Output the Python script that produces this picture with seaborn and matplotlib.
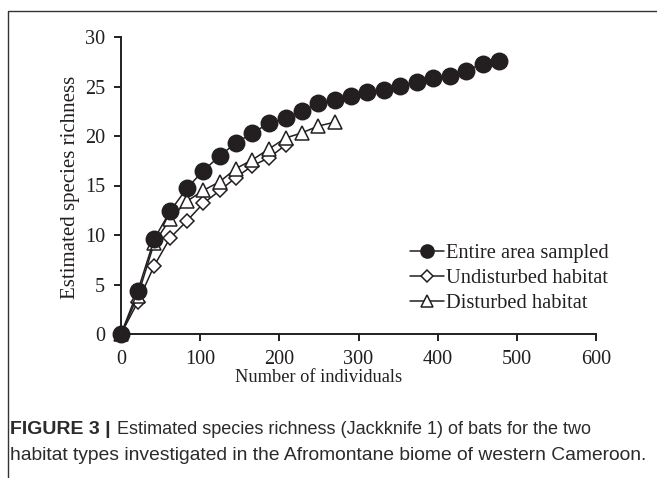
import matplotlib
matplotlib.use('Agg')
import matplotlib.pyplot as plt
import seaborn as sns
import pandas as pd
from matplotlib.lines import Line2D

# ---------------- data ----------------
x_entire = [0, 21, 42, 62, 83, 104, 125, 145, 166, 187, 208, 228, 249, 270,
            291, 311, 332, 353, 374, 394, 415, 436, 457, 477]
y_entire = [0, 4.3, 9.6, 12.4, 14.7, 16.5, 18.0, 19.3, 20.3, 21.3, 21.8, 22.5,
            23.3, 23.6, 24.0, 24.4, 24.6, 25.1, 25.5, 25.9, 26.1, 26.6, 27.3, 27.6]

x_undist = [0, 21, 42, 62, 83, 104, 125, 145, 166, 187, 208]
y_undist = [0, 3.2, 6.9, 9.7, 11.4, 13.2, 14.5, 15.8, 17.0, 17.8, 19.1]

x_dist = [0, 21, 42, 62, 83, 104, 125, 145, 166, 187, 208, 228, 249, 270]
y_dist = [0, 3.8, 9.2, 11.6, 13.4, 14.5, 15.4, 16.7, 17.6, 18.7, 19.8, 20.3, 21.0, 21.4]

series_names = ["Entire area sampled", "Undisturbed habitat", "Disturbed habitat"]
x_ticks = [0, 100, 200, 300, 400, 500, 600]
y_ticks = [0, 5, 10, 15, 20, 25, 30]
x_label = "Number of individuals"
y_label = "Estimated species richness"
caption_bold = "FIGURE 3 |"
caption_line1 = "Estimated species richness (Jackknife 1) of bats for the two"
caption_line2 = "habitat types investigated in the Afromontane biome of western Cameroon."

# ---------------- style ----------------
sns.set_theme(style='ticks')
plt.rcParams['font.family'] = ['Liberation Serif', 'DejaVu Serif']
INK = '#231f20'

W, H = 657, 478
fig = plt.figure(figsize=(W / 100, H / 100), dpi=100)
ax = fig.add_axes([121 / W, 1 - 334 / H, (596 - 121) / W, (334 - 37) / H])
ax.patch.set_alpha(0)

styles = {
    "Undisturbed habitat": dict(marker='D', markersize=7.5, markerfacecolor='white', z=3),
    "Disturbed habitat": dict(marker='^', markersize=10.5, markerfacecolor='white', z=4),
    "Entire area sampled": dict(marker='o', markersize=11.8, markerfacecolor=INK, z=5),
}
data = {
    "Entire area sampled": (x_entire, y_entire),
    "Undisturbed habitat": (x_undist, y_undist),
    "Disturbed habitat": (x_dist, y_dist),
}
for name in ["Undisturbed habitat", "Disturbed habitat", "Entire area sampled"]:
    xs, ys = data[name]
    df = pd.DataFrame({"x": xs, "y": ys})
    st = styles[name]
    sns.lineplot(data=df, x="x", y="y", ax=ax, color=INK, linewidth=1.1,
                 marker=st['marker'], markersize=st['markersize'],
                 markerfacecolor=st['markerfacecolor'], markeredgecolor=INK,
                 markeredgewidth=1.1, legend=False, zorder=st['z'], clip_on=False)

ax.set_xlim(0, 600)
ax.set_ylim(0, 30)
ax.set_xticks(x_ticks)
ax.set_yticks(y_ticks)
ax.set_xlabel("")
ax.set_ylabel("")
for s in ['top', 'right']:
    ax.spines[s].set_visible(False)
for s in ['left', 'bottom']:
    ax.spines[s].set_linewidth(1.4)
    ax.spines[s].set_color(INK)
ax.tick_params(axis='both', direction='out', length=5, width=1.4, color=INK,
               labelsize=14.6, labelcolor=INK, pad=6.5)

fig.text(319 / W, 1 - 377 / H, x_label, ha='center', va='center',
         fontsize=13.2, color=INK)
fig.text(70 / W, 1 - 187 / H, y_label, ha='center', va='center', rotation=90,
         fontsize=15, color=INK)

handles = []
for name in series_names:
    st = styles[name]
    handles.append(Line2D([], [], color=INK, linewidth=1.1, marker=st['marker'],
                          markersize=st['markersize'] * 0.8,
                          markerfacecolor=st['markerfacecolor'],
                          markeredgecolor=INK, markeredgewidth=1.1))
leg = ax.legend(handles, series_names, loc='upper left',
                bbox_to_anchor=(410 / W, 1 - 244 / H), bbox_transform=fig.transFigure,
                frameon=False, fontsize=14.8, handlelength=1.65, handletextpad=0.12,
                labelspacing=0.26, borderpad=0, borderaxespad=0)
for t in leg.get_texts():
    t.set_color(INK)

# frame lines (left and top)
fig.add_artist(Line2D([8 / W, 8 / W, 1], [0, 1 - 11 / H, 1 - 11 / H],
                      transform=fig.transFigure, color='#333333', linewidth=1.0))

# caption
cap_fam = ['Liberation Sans', 'DejaVu Sans']
CAP = '#2b2b2b'
fig.canvas.draw()
r = fig.canvas.get_renderer()
t1 = fig.text(10 / W, 1 - 429 / H, caption_bold, ha='left', va='center',
              fontsize=14, fontweight='bold', family=cap_fam, color=CAP)
bb = t1.get_window_extent(renderer=r)
fig.text((bb.x1 + 6) / W, 1 - 429 / H, caption_line1, ha='left', va='center',
         fontsize=13.0, family=cap_fam, color=CAP)
fig.text(10 / W, 1 - 455 / H, caption_line2, ha='left', va='center',
         fontsize=13.9, family=cap_fam, color=CAP)

fig.savefig('out.png', dpi=100)
